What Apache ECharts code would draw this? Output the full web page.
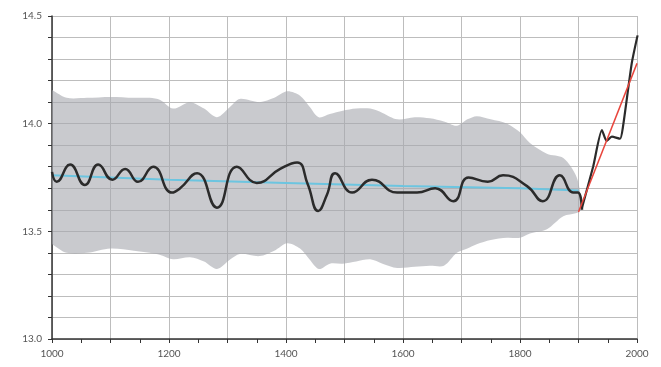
<!DOCTYPE html>
<html><head><meta charset="utf-8">
<script src="https://cdn.jsdelivr.net/npm/echarts@6/dist/echarts.min.js"></script>
<style>html,body{margin:0;padding:0;background:#fff}#c{width:661px;height:367px}</style>
</head><body><div id="c"></div>
<script>
const bandYears = [1000,1025,1060,1100,1140,1167,1185,1207,1236,1260,1282,1305,1321,1355,1380,1402,1424,1440,1456,1475,1497,1520,1544,1565,1590,1620,1646,1670,1692,1710,1726,1750,1778,1800,1817,1846,1874,1897,1906];
const bandUpper = [14.156,14.12,14.12,14.124,14.12,14.12,14.11,14.07,14.10,14.07,14.03,14.08,14.115,14.10,14.12,14.15,14.13,14.08,14.03,14.045,14.06,14.07,14.07,14.05,14.02,14.03,14.025,14.01,13.99,14.02,14.035,14.02,14.00,13.96,13.91,13.86,13.84,13.75,13.62];
const bandLower = [13.44,13.40,13.40,13.42,13.41,13.40,13.39,13.37,13.38,13.36,13.325,13.37,13.395,13.385,13.41,13.445,13.42,13.37,13.325,13.35,13.35,13.36,13.37,13.35,13.33,13.335,13.34,13.34,13.40,13.42,13.44,13.46,13.47,13.47,13.49,13.51,13.57,13.585,13.60];
const reconYears = [1000,1008,1031,1056,1079,1103,1125,1147,1173,1205,1219,1248,1282,1316,1350,1390,1419,1437,1455,1470,1484,1513,1547,1590,1624,1655,1686,1712,1745,1771,1812,1839,1868,1891,1899,1906];
const reconTemp = [13.776,13.73,13.81,13.715,13.81,13.74,13.79,13.73,13.80,13.68,13.70,13.77,13.61,13.80,13.725,13.79,13.82,13.72,13.595,13.67,13.77,13.68,13.74,13.68,13.68,13.70,13.64,13.75,13.73,13.76,13.71,13.64,13.76,13.68,13.68,13.60];
const instYears = [1906,1925,1940,1948,1957,1971,1976,1991,2001];
const instTemp = [13.61,13.80,13.97,13.92,13.94,13.93,13.985,14.28,14.41];
const trendYears = [1000,1200,1400,1600,1800,1900];
const trendTemp = [13.76,13.74,13.725,13.71,13.70,13.69];
const redYears = [1900,2000];
const redTemp = [13.59,14.28];
const xTickLabels = [1000,1200,1400,1600,1800,2000];
const yTickLabels = [13.0,13.5,14.0,14.5];

const pairs = (xs, ys) => xs.map((x,i)=>[x, ys[i]]);
const chart = echarts.init(document.getElementById('c'), null, {renderer:'canvas'});
const font = 'Lato, "Open Sans", sans-serif';
chart.setOption({
  animation:false,
  grid:{left:52,right:24,top:16,bottom:28},
  xAxis:{type:'value',min:1000,max:2000,interval:100,
    axisLine:{lineStyle:{color:'#333',width:1.5}},
    axisTick:{show:true,length:4,lineStyle:{color:'#333'}},
    minorTick:{show:true,splitNumber:2,length:4,lineStyle:{color:'#333',width:1}},
    splitLine:{show:true,lineStyle:{color:'#bdbdbd',width:1}},
    axisLabel:{margin:10,fontSize:10,color:'#555',fontFamily:font,
      formatter:v=> xTickLabels.indexOf(Math.round(v))>=0 ? String(Math.round(v)) : ''}
  },
  yAxis:{type:'value',min:13.0,max:14.5,interval:0.1,
    axisLine:{show:true,lineStyle:{color:'#333',width:1.5}},
    axisTick:{show:true,length:4,lineStyle:{color:'#333'}},
    splitLine:{show:true,lineStyle:{color:'#bdbdbd',width:1}},
    axisLabel:{margin:10,fontSize:10,color:'#555',fontFamily:font,
      formatter:v=>{const r=Math.round(v*10)/10; return yTickLabels.some(t=>Math.abs(t-r)<1e-6)? r.toFixed(1):'';}}
  },
  series:[
    {type:'custom',silent:true,z:1,
      data:bandYears.map((x,i)=>[x,bandLower[i],bandUpper[i]]),
      encode:{x:0,y:[1,2]},
      renderItem:(params, api)=>{
        if (params.dataIndex!==0) return null;
        const top = bandYears.map((x,i)=>api.coord([x,bandUpper[i]]));
        const bot = bandYears.map((x,i)=>api.coord([x,bandLower[i]])).reverse();
        const n = bot.length;
        const pts = [top[0]].concat(top, [top[top.length-1]], [bot[0]], bot, [bot[n-1]]);
        return {type:'polygon',shape:{points:pts,smooth:0.3},
          style:{fill:'rgba(165,167,174,0.6)'}};
      }},
    {type:'line',data:pairs(trendYears,trendTemp),symbol:'none',z:2,lineStyle:{color:'#6cc5e0',width:2}},
    {type:'line',data:pairs(reconYears,reconTemp),smooth:0.5,symbol:'none',z:3,lineStyle:{color:'#2b2b2b',width:2.5}},
    {type:'line',data:pairs(instYears,instTemp),smooth:0.2,symbol:'none',z:3,lineStyle:{color:'#2b2b2b',width:2.2}},
    {type:'line',data:pairs(redYears,redTemp),symbol:'none',z:4,lineStyle:{color:'#e8453c',width:1.5}}
  ]
});
</script></body></html>
